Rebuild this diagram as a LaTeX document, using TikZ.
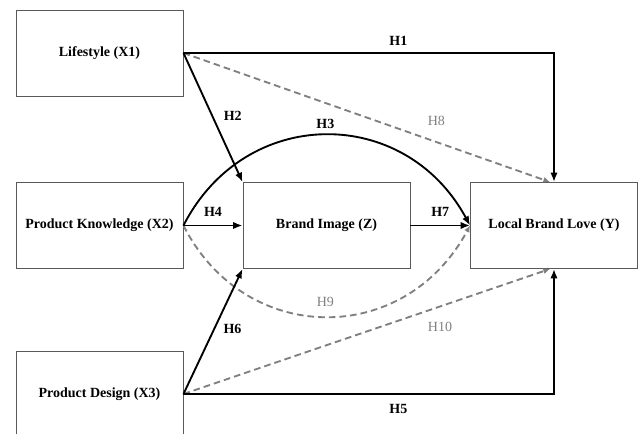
\documentclass[tikz,border=0pt]{standalone}
\usepackage{fontspec}
\setmainfont{Liberation Serif}
\usepackage{xcolor}
\usetikzlibrary{arrows.meta,positioning}
\definecolor{boxline}{HTML}{595959}
\definecolor{medgray}{HTML}{808080}
\newcommand{\pathfont}{\fontsize{10.5}{12}\selectfont}

\begin{document}
\begin{tikzpicture}[
      x=0.75pt,y=-0.75pt,
      varbox/.style={draw=boxline,line width=0.7pt,minimum width=125.25pt,
                   minimum height=64.5pt,align=center,font=\pathfont\bfseries},
      arrow/.style={-{Latex[length=7pt,width=5.5pt]},line width=1.4pt},
      dasharrow/.style={-{Latex[length=5pt,width=4.5pt]},line width=1.4pt,
                   draw=medgray,dash pattern=on 5pt off 3pt},
      hlabel/.style={font=\pathfont\bfseries},
      glabel/.style={font=\pathfont,text=medgray}
    ]
    \useasboundingbox (0,0) rectangle (640,434);
    \node[varbox] (life) at (99.5,53) {Lifestyle (X1)};
    \node[varbox] (know) at (99.5,225.5) {Product Knowledge (X2)};
    \node[varbox] (design) at (99.5,394) {Product Design (X3)};
    \node[varbox] (image) at (326.5,225.5) {Brand Image (Z)};
    \node[varbox] (love) at (554,225.5) {Local Brand Love (Y)};
    % mediated paths (grey)
    \draw[dasharrow] (life.east) -- node[glabel,pos=0.69,above=8pt] (h8) {H8}
      ([xshift=-3pt]love.north);
    \draw[dasharrow] (know.east) .. controls (245,347) and (405,347)
      .. node[glabel,above=3.5pt] (h9) {H9} (love.west);
    \draw[dasharrow] (design.east) -- node[glabel,pos=0.70,below=7.5pt] (h10) {H10}
      ([xshift=-3pt]love.south);
    % direct paths
    \draw[arrow] (life.east) -| node[hlabel,pos=0.29,above=1.5pt] (h1) {H1} (love.north);
    \draw[arrow] (life.east) -- node[hlabel,pos=0.49,right=4.5pt] (h2) {H2} (image.north west);
    \draw[arrow] (know.east) .. controls (245,105) and (405,105)
      .. node[hlabel,above=0.5pt] (h3) {H3} (love.west);
    \draw[arrow] (know.east) -- node[hlabel,above=2.5pt] (h4) {H4} (image.west);
    \draw[arrow] (image.east) -- node[hlabel,above=2.5pt] (h7) {H7} (love.west);
    \draw[arrow] (design.east) -- node[hlabel,pos=0.52,right=3pt] (h6) {H6} (image.south west);
    \draw[arrow] (design.east) -| node[hlabel,pos=0.29,below=3.5pt] (h5) {H5} (love.south);
  \end{tikzpicture}
\end{document}
